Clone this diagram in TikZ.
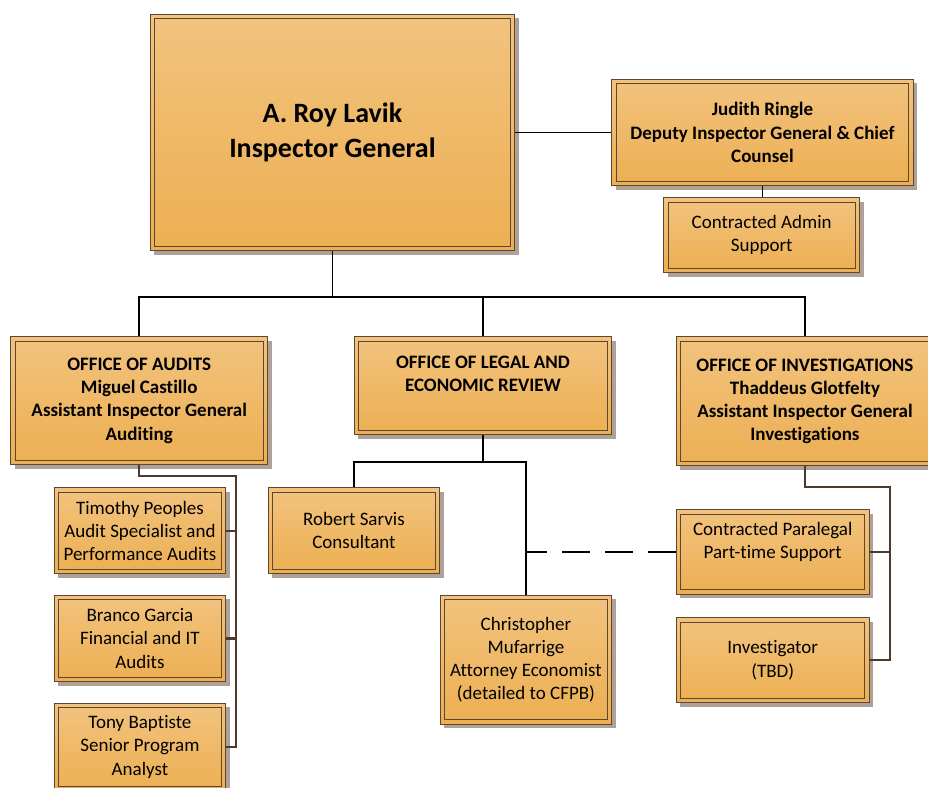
\documentclass[tikz,border=0pt]{standalone}
\usepackage{fontspec}
\setmainfont{Carlito}[Ligatures=NoCommon]
\usetikzlibrary{shadows}
\definecolor{boxtop}{HTML}{F2C37E}
\definecolor{boxbot}{HTML}{ECAF52}
\definecolor{boxline}{HTML}{5E4632}
\definecolor{shadowc}{HTML}{AEA198}
\definecolor{linkbrown}{HTML}{4E3A2C}
\tikzset{
  orgbox/.style={draw=boxline, line width=1.4pt, top color=boxtop, bottom color=boxbot,
    align=center, inner sep=2pt, text=black, font=\fontsize{19}{23.2}\selectfont,
    drop shadow={shadow xshift=4pt, shadow yshift=-4pt, fill=shadowc, opacity=1},
    path picture={\draw[boxline, line width=1.1pt]
      ([shift={(4.5pt,-4.5pt)}]path picture bounding box.north west) rectangle
      ([shift={(-4.5pt,4.5pt)}]path picture bounding box.south east);}},
  boldbox/.style={orgbox, font=\bfseries\fontsize{19}{23.2}\selectfont},
  bigbox/.style={orgbox, font=\bfseries\fontsize{28}{35.5}\selectfont},
  blackline/.style={draw=black, line width=1.8pt},
  brownline/.style={draw=linkbrown, line width=2.4pt},
  dashline/.style={draw=black, line width=1.8pt, dash pattern=on 28pt off 15pt}
}
\newcommand\placebox[7]{\node[#1, minimum width={#5-#3}, minimum height={#6-#4}, anchor=north west] (#2) at (#3,#4) {#7};}
\begin{document}
\begin{tikzpicture}[x=1pt, y=-1pt]
\useasboundingbox (0,0) rectangle (928,787);
\fill[white] (0,0) rectangle (928,787);
% coordinates for buses
\coordinate (bus) at (0,297);
\coordinate (ab) at (236,476);
\coordinate (lb) at (0,462);
\coordinate (ib) at (890,487);
% boxes
\placebox{bigbox}{ig}{149.5}{13.5}{514}{250}{A. Roy Lavik\\Inspector General}
\placebox{boldbox}{judith}{611}{78.5}{912.5}{185}{Judith Ringle\\Deputy Inspector General \& Chief\\Counsel}
\placebox{orgbox}{admin}{663}{197}{859}{272}{Contracted Admin\\Support}
\placebox{boldbox}{audits}{10}{336}{267}{464}{OFFICE OF AUDITS\\Miguel Castillo\\Assistant Inspector General\\Auditing}
\placebox{boldbox}{legal}{353.5}{336}{611}{434}{OFFICE OF LEGAL AND\\ECONOMIC REVIEW\\\mbox{}}
\placebox{boldbox}{invest}{675.5}{336}{933}{465}{OFFICE OF INVESTIGATIONS\\Thaddeus Glotfelty\\Assistant Inspector General\\Investigations}
\placebox{orgbox}{timothy}{53.5}{487}{225}{573}{Timothy Peoples\\Audit Specialist and\\Performance Audits}
\placebox{orgbox}{branco}{53.5}{594.5}{225}{681}{Branco Garcia\\Financial and IT\\Audits}
\placebox{orgbox}{tony}{53.5}{702.5}{225}{790}{Tony Baptiste\\Senior Program\\Analyst}
\placebox{orgbox}{robert}{267.5}{487}{439}{573}{Robert Sarvis\\Consultant}
\placebox{orgbox}{chris}{439.5}{594.5}{611}{723.5}{Christopher\\Mufarrige\\Attorney Economist\\(detailed to CFPB)}
\placebox{orgbox}{paralegal}{675.5}{509}{868.5}{593.5}{Contracted Paralegal\\Part-time Support\\\mbox{}}
\placebox{orgbox}{investigator}{675.5}{617}{868.5}{702}{Investigator\\(TBD)}
% connectors
\draw[blackline] (ig.east) -- (judith.west);
\draw[blackline] (judith.south) -- (judith.south |- admin.north);
\draw[blackline] (ig.south) -- (ig.south |- bus);
\draw[blackline] (audits.north) -- (audits.north |- bus) -- (invest.north |- bus) -- (invest.north);
\draw[blackline] (legal.north) -- (legal.north |- bus);
\draw[brownline] (audits.south) -- (audits.south |- ab) -- (ab) -- (ab |- tony.east) -- (tony.east);
\draw[brownline] (timothy.east) -- (ab |- timothy.east);
\draw[brownline] (branco.east) -- (ab |- branco.east);
\draw[blackline] (legal.south) -- (legal.south |- lb);
\draw[blackline] (robert.north) -- (robert.north |- lb) -- (chris.north |- lb) -- (chris.north);
\draw[dashline] (paralegal.west) -- (chris.north |- paralegal.west);
\draw[brownline] (invest.south) -- (invest.south |- ib) -- (ib) -- (ib |- investigator.east) -- (investigator.east);
\draw[brownline] (paralegal.east) -- (ib |- paralegal.east);
\end{tikzpicture}
\end{document}
